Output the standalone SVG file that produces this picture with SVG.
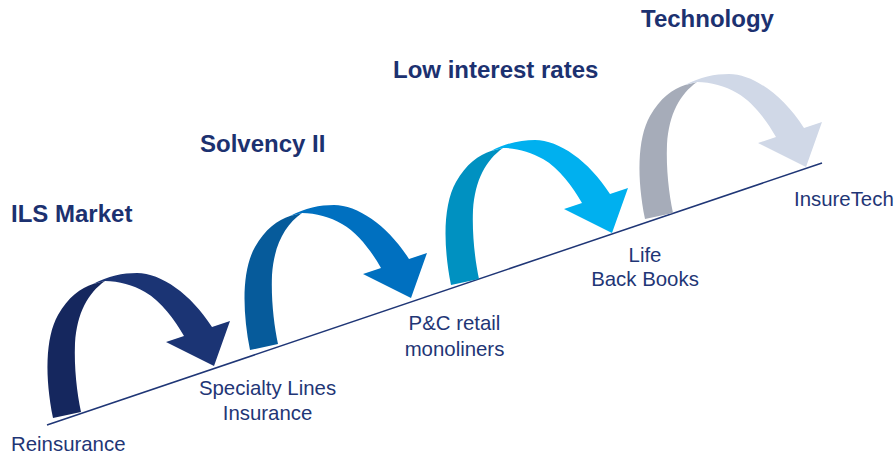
<svg xmlns="http://www.w3.org/2000/svg" xmlns:xlink="http://www.w3.org/1999/xlink" width="896" height="457" viewBox="0 0 896 457">
  <style>
    .head { font-family: "Liberation Sans", Arial, sans-serif; font-weight: bold; font-size: 24px; fill: #1c3170; }
    .lbl { font-family: "Liberation Sans", Arial, sans-serif; font-size: 20.4px; fill: #1f3676; }
    .mid { text-anchor: middle; }
    .axis { stroke: #1f3676; stroke-width: 1.5; fill: none; }
  </style>
  <defs>
    <!-- back leg of the curled ribbon arrow, origin at the outer foot -->
    <path id="leg" d="M0,0 C-8,-40 -8,-80 5,-103 C15,-121 28,-130 40,-134 L52,-137 C35,-125 24,-105 22,-75 C21,-50 24,-25 28,-6 Z"/>
    <!-- front band with arrowhead -->
    <path id="band" d="M40,-134 C55,-142 70,-145 84,-145 C108,-145 138,-124 159,-91 L177,-97 L161,-52 L113,-76 L131,-82 C122,-98 108,-117 92,-126 C80,-133 66,-137 52,-137 Z"/>
  </defs>

  <!-- rising baseline -->
  <g id="connectors">
    <line class="axis" x1="47" y1="425" x2="822" y2="163"/>
  </g>

  <!-- curled arrows, one per driver -->
  <g id="arrow-ils">
    <use xlink:href="#leg" transform="translate(53,418)" fill="#15275e"/>
    <use xlink:href="#band" transform="translate(53,418)" fill="#1b3474"/>
  </g>
  <g id="arrow-solvency">
    <use xlink:href="#leg" transform="translate(250,350)" fill="#065b9b"/>
    <use xlink:href="#band" transform="translate(250,350)" fill="#0070c0"/>
  </g>
  <g id="arrow-rates">
    <use xlink:href="#leg" transform="translate(451,285)" fill="#0091c1"/>
    <use xlink:href="#band" transform="translate(451,285)" fill="#00b0ef"/>
  </g>
  <g id="arrow-technology">
    <use xlink:href="#leg" transform="translate(645,219)" fill="#a6acb9"/>
    <use xlink:href="#band" transform="translate(645,219)" fill="#d0d8e7"/>
  </g>

  <!-- drivers -->
  <g id="ils-market"><text class="head" x="11" y="222">ILS Market</text></g>
  <g id="solvency-ii"><text class="head" x="200" y="152">Solvency II</text></g>
  <g id="low-interest-rates"><text class="head" x="393" y="78">Low interest rates</text></g>
  <g id="technology"><text class="head" x="641" y="27">Technology</text></g>

  <!-- business lines along the baseline -->
  <g id="reinsurance"><text class="lbl" x="11" y="451">Reinsurance</text></g>
  <g id="specialty-lines">
    <text class="lbl mid" x="267.5" y="395">Specialty Lines</text>
    <text class="lbl mid" x="267.5" y="420">Insurance</text>
  </g>
  <g id="pc-retail">
    <text class="lbl mid" x="454.5" y="330">P&amp;C retail</text>
    <text class="lbl mid" x="454.5" y="356">monoliners</text>
  </g>
  <g id="life-back-books">
    <text class="lbl mid" x="645" y="262">Life</text>
    <text class="lbl mid" x="645" y="286">Back Books</text>
  </g>
  <g id="insuretech"><text class="lbl" x="794" y="206">InsureTech</text></g>
</svg>
